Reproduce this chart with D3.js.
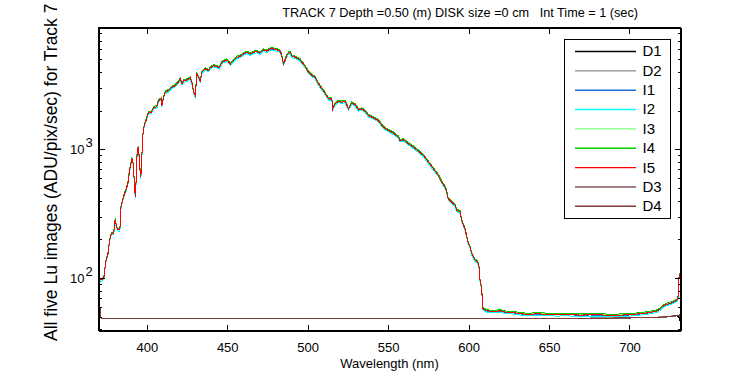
<!DOCTYPE html>
<html>
<head>
<meta charset="utf-8">
<script src="https://cdn.jsdelivr.net/npm/d3@7"></script>
<style>
  body { margin: 0; background: #fff; }
  svg { font-family: Arial, "Liberation Sans", sans-serif; }
  .axis path, .axis line { stroke: #000; shape-rendering: crispEdges; }
  .axis text { font-size: 13px; fill: #000; }
</style>
</head>
<body>
<svg id="chart" width="750" height="375"></svg>
<script>
// series names and colours, legend order
var seriesNames = ['D1', 'D2', 'I1', 'I2', 'I3', 'I4', 'I5', 'D3', 'D4'];
var seriesColors = ['#000000', '#8c8c8c', '#1f6fd8', '#00ffff', '#80ff80', '#00cc00', '#ff0000', '#805858', '#803838'];

// Lu spectrum of the lit images (wavelength nm, ADU/pix/sec)
var iSpectrum = [
  [370.2, 100], [371.5, 97], [372.5, 98], [373.8, 105], [374.2, 130], [375.9, 155], [376.9, 197],
  [378, 222], [379.4, 222], [380.4, 285], [381.2, 250], [382.1, 238], [383.3, 238], [384, 357],
  [385, 402], [386.2, 454], [387.1, 481], [388.3, 548], [389.3, 687], [390.8, 847], [391.8, 752],
  [392.4, 481], [393.1, 427], [393.7, 847], [394.6, 1042], [395.3, 872], [396.1, 610], [396.5, 650],
  [397.2, 1042], [397.8, 1403], [398.6, 1562], [399.7, 1700], [401.1, 1946], [402.8, 1946],
  [404.2, 2105], [406.3, 2153], [407.3, 2398], [409, 2472], [409.4, 2192], [410.4, 2543],
  [411.5, 2780], [413.5, 2865], [415.6, 3040], [417.7, 3130], [419.7, 3326], [420.8, 3531],
  [421.9, 3230], [422.9, 3400], [425, 3470], [427, 3600], [428, 3326], [429.1, 2780], [430.1, 2623],
  [431.2, 3862], [432.2, 3640], [433.2, 3400], [434.3, 3975], [436.3, 4223], [438.4, 4100],
  [439.4, 4300], [441.5, 4478], [443.6, 4400], [445, 4300], [446.7, 4757], [449.8, 4955],
  [451.9, 4600], [453.9, 4900], [456, 5200], [458.1, 5300], [460.1, 5523], [462.2, 5680],
  [464.3, 5520], [466.3, 5680], [468.4, 5780], [470.4, 5600], [472.5, 5930], [474.6, 5800],
  [476.7, 6040], [478.7, 6040], [480.8, 5950], [482.9, 5800], [483.9, 5360], [484.9, 4600],
  [485.9, 4900], [487, 5360], [488, 5580], [489, 5680], [490.2, 5300], [492.2, 5200], [494.3, 5050],
  [495.3, 4955], [496.4, 4757], [498.4, 4420], [500.5, 3975], [502.6, 3750], [504.6, 3640],
  [506.7, 3230], [508.8, 2957], [509.8, 2865], [510.4, 2780], [512.9, 2472], [515, 2472],
  [515.6, 2066], [517.1, 2259], [519.1, 2370], [521.2, 2330], [523.3, 2370], [525.3, 2066],
  [527.4, 2290], [529.5, 2230], [531.5, 2030], [533.6, 2066], [535.7, 1983], [537.7, 1835],
  [540.8, 1760], [543.9, 1678], [547, 1489], [550.2, 1403], [553.3, 1339], [556.4, 1245],
  [557.4, 1174], [559.5, 1189], [562.6, 1107], [565.7, 1042], [568.8, 970], [571.9, 898],
  [575, 797], [578.1, 708], [581.2, 629], [583.3, 558], [585.4, 510], [586.4, 470], [587.4, 410],
  [588.5, 402], [589.5, 390], [591.6, 368], [592.6, 337], [594.7, 327], [595.7, 282], [597.8, 240],
  [599.8, 186], [600.9, 175], [601.9, 155], [603, 146], [604, 138], [605.4, 134], [606, 130],
  [606.7, 118], [607.1, 96], [607.6, 90], [608.2, 81], [608.8, 58], [611.3, 55.8], [615, 55],
  [619.5, 55.8], [623, 54.5], [627.8, 54], [632, 53], [637.1, 52.3], [642, 52.8], [648.5, 52.5],
  [655, 52], [660, 52.3], [665, 52], [670, 51.6], [675, 52], [681.6, 51.8], [688, 51.5],
  [693, 51.6], [698.2, 51.8], [703, 52.4], [708.5, 53.2], [712, 54], [716.8, 55.4], [719, 57.5],
  [720.9, 60.7], [723, 62.5], [726.1, 64.4], [729.6, 67.5], [730.2, 72], [730.8, 102], [731.7, 110]
];
// small spread of the five lit images around that spectrum
var iFactors = { I1: 0.995, I2: 0.975, I3: 1.01, I4: 1.02, I5: 1.0 };

// dark images
var dWave = [370, 371, 371.6, 380, 390, 400, 410, 420, 430, 440, 450, 460, 470, 480, 490, 500, 510,
  520, 530, 540, 550, 560, 570, 580, 590, 600, 610, 620, 630, 640, 650, 660, 670, 680, 690, 700,
  710, 720, 725, 729, 731, 731.7];
var dark1 = [60, 57, 48.7, 48.6, 48.3, 48.8, 48.5, 48.7, 48.4, 48.8, 48.5, 48.6, 48.3, 48.7, 48.5, 48.8,
  48.4, 48.6, 48.9, 48.5, 48.7, 48.4, 48.6, 48.8, 48.5, 48.7, 48.4, 48.6, 48.8, 48.5, 48.7, 48.9, 48.6,
  48.8, 49.0, 49.1, 49.3, 49.7, 50.3, 51.0, 50.0, 44];
var dark2 = [59, 56, 48.9, 48.9, 48.7, 48.5, 48.9, 48.6, 48.8, 48.5, 48.9, 48.7, 48.6, 48.9, 48.4, 48.7,
  48.9, 48.5, 48.8, 48.6, 48.9, 48.7, 48.5, 48.9, 48.6, 48.8, 48.5, 48.9, 48.6, 48.8, 48.7, 48.6, 48.9,
  49.1, 49.2, 49.4, 49.6, 50.0, 50.6, 51.4, 51.0, 47];
var dark3 = [60, 57.5, 48.5, 48.4, 48.6, 48.3, 48.7, 48.4, 48.5, 48.7, 48.3, 48.5, 48.8, 48.4, 48.6, 48.3,
  48.7, 48.5, 48.4, 48.8, 48.5, 48.6, 48.3, 48.5, 48.7, 48.4, 48.6, 48.3, 48.5, 48.7, 48.4, 48.6, 48.5,
  48.7, 48.8, 49.0, 49.2, 49.5, 50.1, 50.8, 51.5, 49];
var dark4 = [61, 58, 48.6, 48.5, 48.7, 48.4, 48.6, 48.3, 48.7, 48.5, 48.4, 48.7, 48.5, 48.3, 48.6, 48.5,
  48.8, 48.4, 48.6, 48.5, 48.3, 48.7, 48.5, 48.6, 48.4, 48.7, 48.5, 48.4, 48.6, 48.5, 48.8, 48.5, 48.7,
  48.9, 49.0, 49.3, 49.5, 49.9, 50.4, 51.2, 51.8, 50];

// ticks
var xTicks = [400, 450, 500, 550, 600, 650, 700];
var yMajor = [100, 1000];
var yMajorExp = ['2', '3'];
var yMinor = [40, 50, 60, 70, 80, 90, 200, 300, 400, 500, 600, 700, 800, 900,
  2000, 3000, 4000, 5000, 6000, 7000, 8000];

var titleText = 'TRACK 7 Depth =0.50 (m) DISK size =0 cm   Int Time = 1 (sec)';
var xLabel = 'Wavelength (nm)';
var yLabel = 'All five Lu images (ADU/pix/sec) for Track 7';

// layout
var margin = { top: 27.5, right: 69.5, bottom: 44.5, left: 98.5 };
var width = 750 - margin.left - margin.right;
var height = 375 - margin.top - margin.bottom;

var svg = d3.select('#chart');
var g = svg.append('g').attr('transform', 'translate(' + margin.left + ',' + margin.top + ')');

var x = d3.scaleLinear().domain([370, 731.7]).range([0, width]);
var y = d3.scaleLog().domain([39.2, 8850]).range([height, 0]);

g.append('clipPath').attr('id', 'clip')
  .append('rect').attr('width', width).attr('height', height);

// build every series as list of {w, v}
var darkByName = { D1: dark1, D2: dark2, D3: dark3, D4: dark4 };
var series = seriesNames.map(function(name, i) {
  var pts;
  if (name.charAt(0) === 'I') {
    pts = iSpectrum.map(function(p) { return { w: p[0], v: p[1] * iFactors[name] }; });
  } else {
    var arr = darkByName[name];
    pts = dWave.map(function(w, k) { return { w: w, v: arr[k] }; });
  }
  return { name: name, color: seriesColors[i], points: pts };
});

var line = d3.line()
  .x(function(d) { return x(d.w); })
  .y(function(d) { return y(d.v); });

g.append('g')
  .attr('clip-path', 'url(#clip)')
  .selectAll('path')
  .data(series)
  .enter().append('path')
    .attr('d', function(d) { return line(d.points); })
    .attr('fill', 'none')
    .attr('stroke', function(d) { return d.color; })
    .attr('stroke-width', 1)
    .attr('shape-rendering', 'crispEdges');

// axes, ticks point inwards on all four sides
g.append('g').attr('class', 'axis')
  .attr('transform', 'translate(0,' + height + ')')
  .call(d3.axisBottom(x).tickValues(xTicks).tickSizeInner(-6).tickSizeOuter(0).tickPadding(12));
g.append('g').attr('class', 'axis')
  .call(d3.axisTop(x).tickValues(xTicks).tickSizeInner(-6).tickSizeOuter(0).tickFormat(''));

g.append('g').attr('class', 'axis')
  .call(d3.axisLeft(y).tickValues(yMajor).tickSizeInner(-6).tickSizeOuter(0).tickFormat(''));
g.append('g').attr('class', 'axis')
  .call(d3.axisLeft(y).tickValues(yMinor).tickSizeInner(-3).tickSizeOuter(0).tickFormat(''));
g.append('g').attr('class', 'axis')
  .attr('transform', 'translate(' + width + ',0)')
  .call(d3.axisRight(y).tickValues(yMajor).tickSizeInner(-6).tickSizeOuter(0).tickFormat(''));
g.append('g').attr('class', 'axis')
  .attr('transform', 'translate(' + width + ',0)')
  .call(d3.axisRight(y).tickValues(yMinor).tickSizeInner(-3).tickSizeOuter(0).tickFormat(''));

// box
g.append('rect')
  .attr('width', width).attr('height', height)
  .attr('fill', 'none').attr('stroke', '#000')
  .attr('shape-rendering', 'crispEdges');

// 10^n labels
var yLab = g.append('g').selectAll('g')
  .data(yMajor)
  .enter().append('g')
    .attr('transform', function(d) { return 'translate(-14,' + y(d) + ')'; });
yLab.append('text')
  .attr('text-anchor', 'end')
  .attr('dy', '0.36em')
  .style('font-size', '13px')
  .text('10');
yLab.append('text')
  .attr('x', 1)
  .attr('dy', '-0.2em')
  .style('font-size', '13px')
  .text(function(d, i) { return yMajorExp[i]; });

// titles
svg.append('text')
  .attr('x', 638).attr('y', 17)
  .attr('text-anchor', 'end')
  .style('font-size', '12.7px')
  .style('white-space', 'pre')
  .text(titleText);

svg.append('text')
  .attr('x', margin.left + width / 2).attr('y', 368)
  .attr('text-anchor', 'middle')
  .style('font-size', '13px')
  .text(xLabel);

svg.append('text')
  .attr('transform', 'translate(57,341) rotate(-90)')
  .attr('text-anchor', 'start')
  .style('font-size', '17.5px')
  .text(yLabel);

// legend
var legend = svg.append('g').attr('transform', 'translate(564.5,39.5)');
legend.append('rect')
  .attr('width', 106).attr('height', 179)
  .attr('fill', '#fff').attr('stroke', '#000')
  .attr('shape-rendering', 'crispEdges');
var item = legend.selectAll('g.item')
  .data(series)
  .enter().append('g')
    .attr('class', 'item')
    .attr('transform', function(d, i) { return 'translate(0,' + (11.5 + i * 19.35) + ')'; });
item.append('line')
  .attr('x1', 10.5).attr('x2', 71.5)
  .attr('y1', 0.5).attr('y2', 0.5)
  .attr('stroke', function(d) { return d.color; })
  .attr('stroke-width', 1.4);
item.append('text')
  .attr('x', 78)
  .attr('dy', '0.36em')
  .style('font-size', '15px')
  .text(function(d) { return d.name; });
</script>
</body>
</html>
